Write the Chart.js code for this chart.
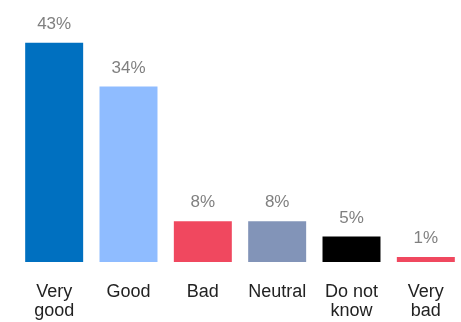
<!DOCTYPE html>
<html>
<head>
<meta charset="utf-8">
<script src="https://cdn.jsdelivr.net/npm/chart.js@4"></script>
<style>
  html, body { margin:0; padding:0; background:#fff; overflow:hidden; }
  #wrap { position:absolute; left:17px; top:0; width:446px; height:322px; }
</style>
</head>
<body>
<div id="wrap"><canvas id="chart"></canvas></div>
<script>
// Survey answers
const categories = [["Very","good"], "Good", "Bad", "Neutral", ["Do not","know"], ["Very","bad"]];
const shares = [43, 34.4, 8, 8, 5, 1];
const barColors = ["#0070c0", "#8fbcff", "#f0485f", "#8294b8", "#000000", "#f0485f"];

const font = "'Liberation Sans', Arial, sans-serif";

// value labels above each bar
const valueLabels = {
  id: "valueLabels",
  afterDatasetsDraw(chart){
    const ctx = chart.ctx;
    const meta = chart.getDatasetMeta(0);
    ctx.save();
    ctx.font = `17px ${font}`;
    ctx.fillStyle = "#808080";
    ctx.textAlign = "center";
    ctx.textBaseline = "alphabetic";
    meta.data.forEach((bar,i)=>{
      ctx.fillText(Math.round(shares[i]) + "%", bar.x, bar.y - 14);
    });
    ctx.restore();
  }
};

new Chart(document.getElementById("chart"), {
  type: "bar",
  data: { labels: categories, datasets: [{ data: shares, backgroundColor: barColors, borderWidth: 0 }] },
  options: {
    responsive: true, maintainAspectRatio: false, animation: false,
    layout: { padding: { top: 7, bottom: 0, left: 0, right: 0 } },
    datasets: { bar: { barPercentage: 0.78, categoryPercentage: 1 } },
    plugins: { legend: { display: false }, tooltip: { enabled: false } },
    scales: {
      x: {
        grid: { display: false }, border: { display: false },
        afterFit(scale){ scale.height = 60; },
        ticks: { color: "#222", padding: 13, font: { family: font, size: 18, lineHeight: 1.05 }, maxRotation: 0, autoSkip: false }
      },
      y: { display: false, min: 0, max: 50 }
    }
  },
  plugins: [valueLabels]
});
</script>
</body>
</html>
